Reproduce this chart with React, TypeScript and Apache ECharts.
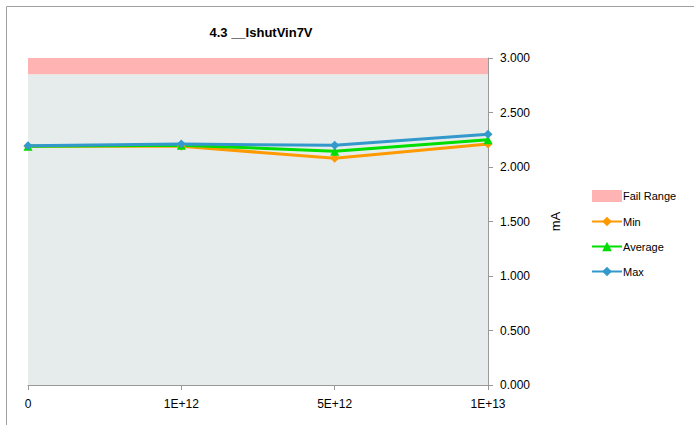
import React, { useEffect, useRef } from "react";
import * as echarts from "echarts";

const categories = ["0", "1E+12", "5E+12", "1E+13"];
const minValues = [2.19, 2.19, 2.08, 2.21];
const avgValues = [2.19, 2.2, 2.145, 2.25];
const maxValues = [2.195, 2.21, 2.2, 2.3];
const passLimit = [2.85, 2.85, 2.85, 2.85];
const failBand = [0.15, 0.15, 0.15, 0.15];
const yTicks = [0, 0.5, 1, 1.5, 2, 2.5, 3];

const FONT = "'Liberation Sans', 'DejaVu Sans', sans-serif";

export default function App() {
  const ref = useRef<HTMLDivElement>(null);
  useEffect(() => {
    if (!ref.current) return;
    const chart = echarts.init(ref.current, undefined, { renderer: "svg" });
    const lineSeries = (name: string, data: number[], color: string, symbol: string, size: number) => ({
      name,
      type: "line",
      data,
      z: 5,
      symbol,
      symbolSize: size,
      lineStyle: { color, width: 3 },
      itemStyle: { color },
    });
    chart.setOption({
      animation: false,
      backgroundColor: "#ffffff",
      textStyle: { fontFamily: FONT },
      title: {
        text: "4.3 __IshutVin7V",
        left: 256,
        textAlign: "center",
        top: 21,
        textStyle: { fontSize: 13, fontWeight: "bold", color: "#000", fontFamily: FONT },
      },
      graphic: [
        {
          type: "rect",
          shape: { x: 6.5, y: 6.5, width: 720, height: 440 },
          style: { fill: "none", stroke: "#a0a0a0", lineWidth: 1 },
          silent: true,
        },
      ],
      legend: {
        orient: "vertical",
        left: 586,
        top: 185,
        itemGap: 14,
        itemWidth: 30,
        itemHeight: 12,
        textStyle: { fontSize: 11, color: "#000", fontFamily: FONT, padding: [0, 0, 0, -4] },
        data: [
          { name: "Fail Range", icon: "rect", itemStyle: { color: "#ffb3b3" } },
          { name: "Min" },
          { name: "Average" },
          { name: "Max" },
        ],
      },
      grid: { left: 28, top: 58, width: 460, height: 327 },
      xAxis: {
        type: "category",
        data: categories,
        boundaryGap: false,
        axisLine: { lineStyle: { color: "#999", width: 1 } },
        axisTick: { show: true, length: 5, lineStyle: { color: "#999" } },
        axisLabel: { color: "#000", fontSize: 12, margin: 13, fontFamily: FONT },
        splitLine: { show: false },
      },
      yAxis: {
        type: "value",
        position: "right",
        min: 0,
        max: 3,
        interval: 0.5,
        name: "mA",
        nameLocation: "middle",
        nameGap: 61,
        nameRotate: 90,
        nameTextStyle: { fontSize: 13, color: "#000", fontFamily: FONT },
        axisLine: { show: true, lineStyle: { color: "#999", width: 1 } },
        axisTick: { show: true, length: 5, lineStyle: { color: "#999" } },
        axisLabel: {
          color: "#000",
          fontSize: 12,
          margin: 12,
          fontFamily: FONT,
          formatter: (v: number) => (yTicks.includes(v) ? v.toFixed(3) : ""),
        },
        splitLine: { show: false },
      },
      series: [
        {
          name: "Pass",
          type: "line",
          stack: "band",
          data: passLimit,
          symbol: "none",
          lineStyle: { width: 0 },
          areaStyle: { color: "#e6ecec", opacity: 1 },
          silent: true,
          z: 1,
        },
        {
          name: "Fail Range",
          type: "line",
          stack: "band",
          data: failBand,
          symbol: "none",
          lineStyle: { width: 0 },
          itemStyle: { color: "#ffb3b3" },
          areaStyle: { color: "#ffb3b3", opacity: 1 },
          silent: true,
          z: 1,
        },
        lineSeries("Min", minValues, "#ff9900", "diamond", 9),
        lineSeries("Average", avgValues, "#00dd00", "triangle", 9),
        lineSeries("Max", maxValues, "#3399cc", "diamond", 9),
      ],
    });
    return () => chart.dispose();
  }, []);
  return (
    <div
      ref={ref}
      style={{ position: "absolute", left: 0, top: 0, width: 694, height: 425 }}
    />
  );
}
